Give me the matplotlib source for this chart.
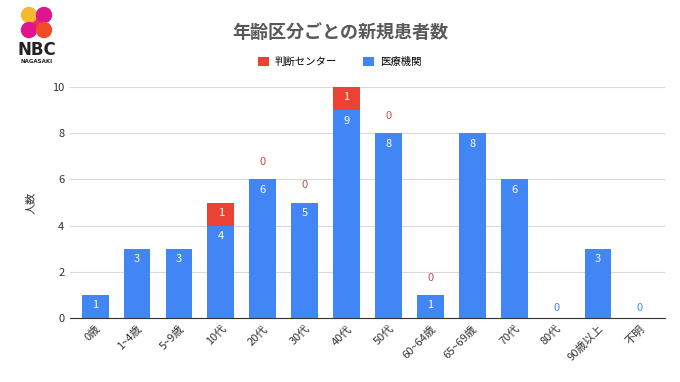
import matplotlib
matplotlib.use("Agg")
import matplotlib.pyplot as plt
from matplotlib.patches import Circle, Rectangle
import numpy as np

plt.rcParams['font.family'] = ['Noto Sans CJK JP', 'DejaVu Sans']

categories = ["0歳", "1~4歳", "5~9歳", "10代", "20代", "30代", "40代", "50代",
              "60~64歳", "65~69歳", "70代", "80代", "90歳以上", "不明"]
iryo = [1, 3, 3, 4, 6, 5, 9, 8, 1, 8, 6, 0, 3, 0]
handan = [None, None, None, 1, 0, 0, 1, 0, 0, None, None, None, None, None]
yticks = [0, 2, 4, 6, 8, 10]

BLUE = "#4285F4"
RED = "#EA4335"

fig = plt.figure(figsize=(6.8, 3.82), dpi=100)
ax = fig.add_axes([0.103, 0.1675, 0.875, 0.6045])

x = np.arange(len(categories))
w = 0.64
red_vals = [v if v is not None else 0 for v in handan]
ax.bar(x, iryo, width=w, color=BLUE, label="医療機関", zorder=3)
ax.bar(x, red_vals, width=w, bottom=iryo, color=RED, label="判断センター", zorder=3)

for i in range(len(categories)):
    b = iryo[i]
    if b > 0:
        ax.text(x[i], b - 0.45, str(b), ha="center", va="center", color="white", fontsize=8, zorder=4)
    else:
        ax.text(x[i], 0.45, "0", ha="center", va="center", color=BLUE, fontsize=8, zorder=4)
    r = handan[i]
    if r is not None:
        if r > 0:
            ax.text(x[i], b + r - 0.45, str(r), ha="center", va="center", color="white", fontsize=8, zorder=4)
        else:
            ax.text(x[i], b + 0.75, "0", ha="center", va="center", color="#C0504D", fontsize=8, zorder=4)

ax.set_ylim(0, 10)
ax.set_xlim(-0.6, len(categories) - 0.4)
ax.set_yticks(yticks)
ax.set_yticklabels([str(t) for t in yticks], fontsize=8, color="#333333")
ax.set_xticks(x)
ax.set_xticklabels(categories, rotation=45, ha="right", rotation_mode="anchor", fontsize=8, color="#333333")
ax.tick_params(length=0, pad=4)
ax.grid(axis="y", color="#D9D9D9", linewidth=0.8, zorder=0)
for s in ["top", "right", "left"]:
    ax.spines[s].set_visible(False)
ax.spines["bottom"].set_color("#333333")
ax.spines["bottom"].set_linewidth(0.8)
ax.set_ylabel("人数", fontsize=8, color="#333333", labelpad=12)

fig.text(0.5, 0.915, "年齢区分ごとの新規患者数", ha="center", va="center", fontsize=13,
         fontweight="bold", color="#595959")

handles, labels = ax.get_legend_handles_labels()
fig.legend(handles[::-1], labels[::-1], loc="center", bbox_to_anchor=(0.5, 0.838), ncol=2,
           frameon=False, fontsize=7.5, handlelength=1.0, handleheight=1.0, columnspacing=2.5,
           handletextpad=0.6)

# logo (pixel coordinates)
lax = fig.add_axes([0.0, 0.78, 0.12, 0.22])
lax.set_xlim(0, 81.6)
lax.set_ylim(84, 0)
lax.axis("off")
lax.add_patch(Rectangle((31, 17), 10, 11, color="#E8306A"))
lax.add_patch(Circle((29, 15), 7.5, color="#F7B733"))
lax.add_patch(Circle((44, 15), 7.5, color="#E0148C"))
lax.add_patch(Circle((29, 30), 7.5, color="#E0148C"))
lax.add_patch(Circle((44, 30), 7.5, color="#F24C27"))
lax.text(37, 50, "NBC", ha="center", va="center", fontsize=12, fontweight="bold", color="#222222",
         family="DejaVu Sans")
lax.text(37, 61, "NAGASAKI", ha="center", va="center", fontsize=4, fontweight="bold", color="#222222",
         family="DejaVu Sans")

fig.savefig("out.png", dpi=100)
